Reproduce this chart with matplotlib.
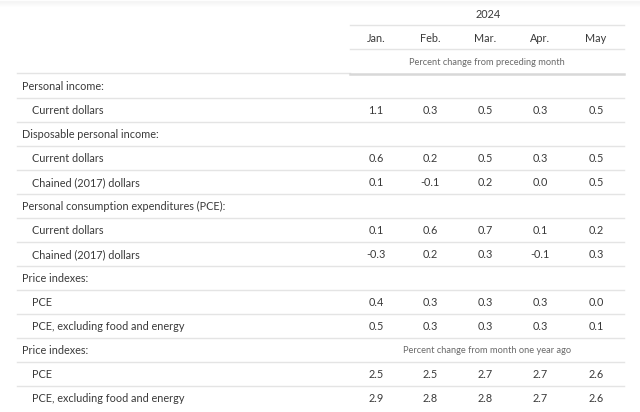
import matplotlib
matplotlib.use("Agg")
import matplotlib.pyplot as plt

year_label = "2024"
months = ["Jan.", "Feb.", "Mar.", "Apr.", "May"]
subhead_1 = "Percent change from preceding month"
subhead_2 = "Percent change from month one year ago"

row_labels = [
    "Personal income:",
    "Current dollars",
    "Disposable personal income:",
    "Current dollars",
    "Chained (2017) dollars",
    "Personal consumption expenditures (PCE):",
    "Current dollars",
    "Chained (2017) dollars",
    "Price indexes:",
    "PCE",
    "PCE, excluding food and energy",
    "Price indexes:",
    "PCE",
    "PCE, excluding food and energy",
]
row_indent = [0, 1, 0, 1, 1, 0, 1, 1, 0, 1, 1, 0, 1, 1]
row_values = [
    None,
    ["1.1", "0.3", "0.5", "0.3", "0.5"],
    None,
    ["0.6", "0.2", "0.5", "0.3", "0.5"],
    ["0.1", "-0.1", "0.2", "0.0", "0.5"],
    None,
    ["0.1", "0.6", "0.7", "0.1", "0.2"],
    ["-0.3", "0.2", "0.3", "-0.1", "0.3"],
    None,
    ["0.4", "0.3", "0.3", "0.3", "0.0"],
    ["0.5", "0.3", "0.3", "0.3", "0.1"],
    "sub2",
    ["2.5", "2.5", "2.7", "2.7", "2.6"],
    ["2.9", "2.8", "2.8", "2.7", "2.6"],
]

W, H = 640, 412
fig = plt.figure(figsize=(W / 100, H / 100), dpi=100)
ax = fig.add_axes([0, 0, 1, 1])
ax.set_xlim(0, W)
ax.set_ylim(H, 0)
ax.axis("off")

FONT = "Lato"
TXT = "#3a3a3a"
SUB = "#6a6a6a"
LINE = "#e4e4e4"
fs = 7.85
fs_small = 6.7

left = 17
right = 624
data_left = 350
col_x = [376, 430, 485, 540, 596]
label_x = [21.5, 32]

# faint top shadow
for i in range(6):
    ax.axhline(i + 0.5, color="#000000", alpha=0.035 * (6 - i) / 6, lw=1)

# header
ax.text(488, 14.5, year_label, ha="center", va="center", fontsize=fs, color=TXT, family=FONT)
ax.plot([data_left, right], [25, 25], color=LINE, lw=1)
for x, m in zip(col_x, months):
    ax.text(x, 38, m, ha="center", va="center", fontsize=fs, color=TXT, family=FONT)
ax.plot([data_left, right], [49, 49], color=LINE, lw=1)
ax.text(487, 62.5, subhead_1, ha="center", va="center", fontsize=fs_small, color=SUB, family=FONT)
ax.plot([left, data_left], [73.3, 73.3], color=LINE, lw=1)
ax.plot([data_left, right], [73.8, 73.8], color="#d8d8d8", lw=1.8)

row_h = 24
top = 74
for i, (lab, ind, vals) in enumerate(zip(row_labels, row_indent, row_values)):
    yc = top + row_h * i + row_h / 2 + 0.8
    ax.text(label_x[ind], yc, lab, ha="left", va="center", fontsize=fs, color=TXT, family=FONT)
    if vals == "sub2":
        ax.text(487, yc, subhead_2, ha="center", va="center", fontsize=fs_small, color=SUB, family=FONT)
    elif vals is not None:
        for x, v in zip(col_x, vals):
            ax.text(x, yc, v, ha="center", va="center", fontsize=fs, color=TXT, family=FONT)
    if i < len(row_labels) - 1:
        yl = top + row_h * (i + 1)
        ax.plot([left, right], [yl, yl], color=LINE, lw=1)

fig.savefig("out.png", dpi=100, facecolor="white")
